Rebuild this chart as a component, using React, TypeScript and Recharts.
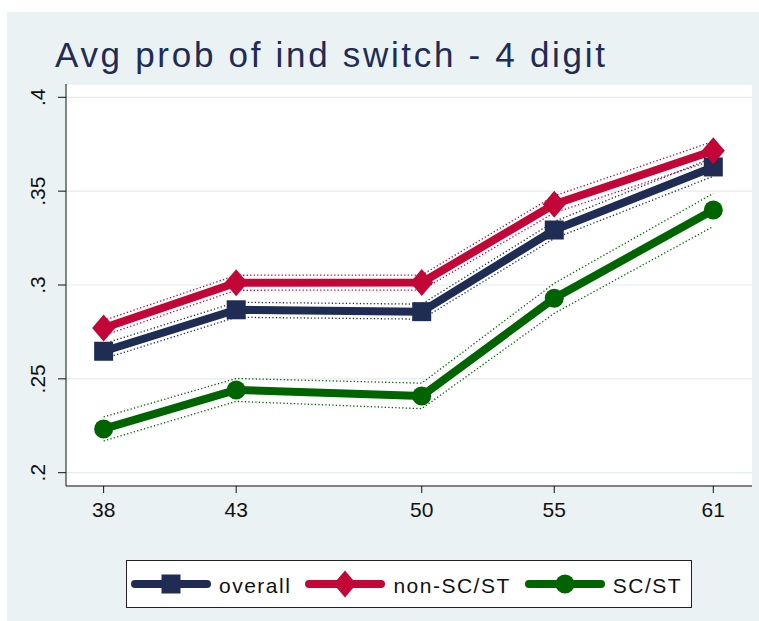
import React from "react";
import { LineChart, Line, XAxis, YAxis, CartesianGrid, Legend } from "recharts";

// ages (x axis)
const ages = [38, 43, 50, 55, 61];

// point estimates
const overall = [0.2647, 0.2868, 0.2858, 0.3293, 0.3629];
const nonScSt = [0.2771, 0.3012, 0.3013, 0.343, 0.3715];
const scSt = [0.2233, 0.2441, 0.2409, 0.2929, 0.34];

// confidence bands
const overallLo = [0.2607, 0.2828, 0.2818, 0.3248, 0.3579];
const overallHi = [0.2687, 0.2908, 0.2898, 0.3338, 0.3679];
const nonScStLo = [0.2731, 0.2972, 0.2973, 0.3385, 0.3665];
const nonScStHi = [0.2811, 0.3052, 0.3053, 0.3475, 0.3765];
const scStLo = [0.2169, 0.238, 0.2341, 0.2849, 0.3312];
const scStHi = [0.2297, 0.2502, 0.2477, 0.3009, 0.3488];

const yTicks = [0.2, 0.25, 0.3, 0.35, 0.4];
const yTickLabels = [".2", ".25", ".3", ".35", ".4"];

const NAVY = "#1F2C54";
const RED = "#C20637";
const GREEN = "#006400";
const BG = "#EAF2F3";
const FONT = "'Liberation Sans', Arial, sans-serif";

const data = ages.map((age, i) => ({
  age,
  overall: overall[i],
  overallLo: overallLo[i],
  overallHi: overallHi[i],
  nonScSt: nonScSt[i],
  nonScStLo: nonScStLo[i],
  nonScStHi: nonScStHi[i],
  scSt: scSt[i],
  scStLo: scStLo[i],
  scStHi: scStHi[i],
}));

const series = [
  { key: "overall", name: "overall", color: NAVY, marker: "square" },
  { key: "nonScSt", name: "non-SC/ST", color: RED, marker: "diamond" },
  { key: "scSt", name: "SC/ST", color: GREEN, marker: "circle" },
];

const bands = [
  { key: "overallLo", color: NAVY },
  { key: "overallHi", color: NAVY },
  { key: "nonScStLo", color: RED },
  { key: "nonScStHi", color: RED },
  { key: "scStLo", color: GREEN },
  { key: "scStHi", color: GREEN },
];

const markerShape = (kind: string, cx: number, cy: number, color: string, key?: string) => {
  if (kind === "square") {
    return <rect key={key} x={cx - 9.5} y={cy - 9.5} width={19} height={19} fill={color} />;
  }
  if (kind === "diamond") {
    return (
      <polygon
        key={key}
        points={`${cx},${cy - 13.5} ${cx + 11.5},${cy} ${cx},${cy + 13.5} ${cx - 11.5},${cy}`}
        fill={color}
      />
    );
  }
  return <circle key={key} cx={cx} cy={cy} r={9.5} fill={color} />;
};

const makeDot = (kind: string, color: string) => (props: any) =>
  markerShape(kind, props.cx, props.cy, color, `${kind}-${props.index}`);

const XTick = (p: any) => (
  <text x={p.x} y={p.y + 24} textAnchor="middle" fontFamily={FONT} fontSize={21} fill="#111">
    {p.payload.value}
  </text>
);

const YTick = (p: any) => {
  const idx = yTicks.indexOf(p.payload.value);
  const x = p.x - 13;
  return (
    <text
      x={x}
      y={p.y}
      transform={`rotate(-90 ${x} ${p.y})`}
      textAnchor="middle"
      fontFamily={FONT}
      fontSize={21}
      fill="#111"
    >
      {idx >= 0 ? yTickLabels[idx] : p.payload.value}
    </text>
  );
};

const renderLegend = () => (
  <div
    style={{
      boxSizing: "border-box",
      width: 566,
      height: 48,
      border: "1px solid #222",
      background: "#fff",
      display: "flex",
      alignItems: "center",
      paddingLeft: 4,
      fontFamily: FONT,
      fontSize: 21,
      letterSpacing: 1.5,
      color: "#111",
      whiteSpace: "nowrap",
    }}
  >
    {series.map((s) => (
      <div key={s.key} style={{ display: "flex", alignItems: "center", marginRight: 14 }}>
        <svg width={80} height={34} style={{ display: "block" }}>
          <line x1={4} y1={17} x2={76} y2={17} stroke={s.color} strokeWidth={8} strokeLinecap="round" />
          {markerShape(s.marker, 40, 17, s.color)}
        </svg>
        <span style={{ marginLeft: 8, paddingTop: 4 }}>{s.name}</span>
      </div>
    ))}
  </div>
);

export default function App() {
  return (
    <div style={{ position: "relative", width: 759, height: 621, background: "#fff" }}>
      <style>{"body{margin:0}"}</style>
      <div style={{ position: "absolute", left: 7, top: 12, width: 752, height: 609, background: BG }} />
      <div
        style={{
          position: "absolute",
          left: 55,
          top: 37,
          fontFamily: FONT,
          fontSize: 35,
          lineHeight: "35px",
          letterSpacing: 2.7,
          color: NAVY,
          whiteSpace: "nowrap",
        }}
      >
        Avg prob of ind switch - 4 digit
      </div>
      <div style={{ position: "absolute", left: 0, top: 0 }}>
        <LineChart width={759} height={621} data={data} margin={{ top: 84, right: 7, bottom: 95, left: 0 }}>
          <CartesianGrid vertical={false} fill="#fff" stroke="#E3EBED" strokeWidth={1.2} />
          <XAxis
            type="number"
            dataKey="age"
            domain={[36.58, 62.46]}
            allowDataOverflow
            ticks={ages}
            interval={0}
            height={40}
            tickSize={7}
            tickMargin={0}
            axisLine={{ stroke: "#111" }}
            tickLine={{ stroke: "#111" }}
            tick={XTick}
          />
          <YAxis
            type="number"
            domain={[0.19291, 0.40709]}
            allowDataOverflow
            ticks={yTicks}
            interval={0}
            width={66}
            tickSize={8}
            tickMargin={0}
            axisLine={{ stroke: "#111" }}
            tickLine={{ stroke: "#111" }}
            tick={YTick}
          />
          {bands.map((b) => (
            <Line
              key={b.key}
              dataKey={b.key}
              stroke={b.color}
              strokeWidth={1.3}
              strokeDasharray="1.3 2.2"
              dot={false}
              activeDot={false}
              legendType="none"
              isAnimationActive={false}
            />
          ))}
          {series.map((s) => (
            <Line
              key={s.key}
              dataKey={s.key}
              name={s.name}
              stroke={s.color}
              strokeWidth={8}
              strokeLinejoin="round"
              dot={makeDot(s.marker, s.color)}
              activeDot={false}
              isAnimationActive={false}
            />
          ))}
          <Legend
            verticalAlign="middle"
            layout="horizontal"
            content={renderLegend}
            wrapperStyle={{ position: "absolute", left: 126, top: 560, width: 566, height: 48 }}
          />
        </LineChart>
      </div>
    </div>
  );
}
